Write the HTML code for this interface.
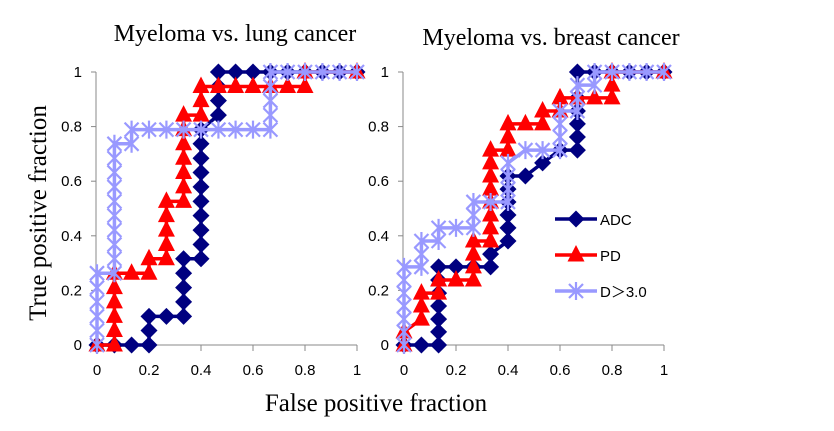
<!DOCTYPE html>
<html><head><meta charset="utf-8">
<style>
html,body{margin:0;padding:0;background:#fff;}
svg{display:block;}
.serif{font-family:"Liberation Serif",serif;fill:#000;}
.tick{font-family:"Liberation Sans",sans-serif;font-size:15px;fill:#000;}
</style></head>
<body>
<svg id="chart" width="834" height="431" viewBox="0 0 834 431"></svg>
<script>
const xTicks=[0,0.2,0.4,0.6,0.8,1];
const yTicks=[0,0.2,0.4,0.6,0.8,1];
const xTickLabels=["0","0.2","0.4","0.6","0.8","1"];
const yTickLabels=["0","0.2","0.4","0.6","0.8","1"];
const seriesNames=["ADC","PD","D＞3.0"];
const lungADC=[[0,0],[0.067,0],[0.133,0],[0.2,0],[0.2,0.053],[0.2,0.105],[0.267,0.105],[0.333,0.105],[0.333,0.158],[0.333,0.21],[0.333,0.263],[0.333,0.316],[0.4,0.316],[0.4,0.368],[0.4,0.421],[0.4,0.474],[0.4,0.526],[0.4,0.579],[0.4,0.632],[0.4,0.684],[0.4,0.737],[0.4,0.789],[0.467,0.842],[0.467,0.895],[0.467,0.947],[0.467,1],[0.533,1],[0.6,1],[0.667,1],[0.733,1],[0.8,1],[0.867,1],[0.933,1],[1,1]];
const lungPD=[[0,0],[0.067,0],[0.067,0.053],[0.067,0.105],[0.067,0.158],[0.067,0.21],[0.067,0.263],[0.133,0.263],[0.2,0.263],[0.2,0.316],[0.267,0.316],[0.267,0.368],[0.267,0.421],[0.267,0.474],[0.267,0.526],[0.333,0.526],[0.333,0.579],[0.333,0.632],[0.333,0.684],[0.333,0.737],[0.333,0.789],[0.333,0.842],[0.4,0.842],[0.4,0.895],[0.4,0.947],[0.467,0.947],[0.533,0.947],[0.6,0.947],[0.667,0.947],[0.733,0.947],[0.8,0.947],[0.8,1],[1,1]];
const lungD=[[0,0],[0,0.053],[0,0.105],[0,0.158],[0,0.21],[0,0.263],[0.067,0.263],[0.067,0.316],[0.067,0.368],[0.067,0.421],[0.067,0.474],[0.067,0.526],[0.067,0.579],[0.067,0.632],[0.067,0.684],[0.067,0.737],[0.133,0.737],[0.133,0.789],[0.2,0.789],[0.267,0.789],[0.333,0.789],[0.4,0.789],[0.467,0.789],[0.533,0.789],[0.6,0.789],[0.667,0.789],[0.667,0.842],[0.667,0.895],[0.667,0.947],[0.667,1],[0.733,1],[0.8,1],[0.867,1],[0.933,1],[1,1]];
const breastADC=[[0,0],[0.067,0],[0.133,0],[0.133,0.048],[0.133,0.095],[0.133,0.143],[0.133,0.19],[0.133,0.238],[0.133,0.286],[0.2,0.286],[0.267,0.286],[0.333,0.286],[0.333,0.333],[0.4,0.381],[0.4,0.429],[0.4,0.476],[0.4,0.524],[0.4,0.571],[0.4,0.619],[0.467,0.619],[0.533,0.667],[0.6,0.714],[0.667,0.714],[0.667,0.762],[0.667,0.81],[0.667,0.857],[0.667,0.905],[0.667,1],[0.733,1],[0.8,1],[0.867,1],[0.933,1],[1,1]];
const breastPD=[[0,0],[0,0.048],[0.067,0.095],[0.067,0.143],[0.067,0.19],[0.133,0.19],[0.133,0.238],[0.2,0.238],[0.267,0.238],[0.267,0.286],[0.267,0.333],[0.267,0.381],[0.333,0.381],[0.333,0.429],[0.333,0.476],[0.333,0.524],[0.333,0.571],[0.333,0.619],[0.333,0.667],[0.333,0.714],[0.4,0.714],[0.4,0.762],[0.4,0.81],[0.467,0.81],[0.533,0.81],[0.533,0.857],[0.6,0.857],[0.6,0.905],[0.667,0.905],[0.733,0.905],[0.8,0.905],[0.8,0.952],[0.8,1],[1,1]];
const breastD=[[0,0],[0,0.048],[0,0.095],[0,0.143],[0,0.19],[0,0.238],[0,0.286],[0.067,0.286],[0.067,0.333],[0.067,0.381],[0.133,0.381],[0.133,0.429],[0.2,0.429],[0.267,0.429],[0.267,0.476],[0.267,0.524],[0.333,0.524],[0.4,0.524],[0.4,0.571],[0.4,0.619],[0.4,0.667],[0.467,0.714],[0.533,0.714],[0.6,0.714],[0.6,0.762],[0.6,0.81],[0.6,0.857],[0.667,0.857],[0.667,0.905],[0.667,0.952],[0.733,0.952],[0.733,1],[0.8,1],[0.867,1],[0.933,1],[1,1]];

const NS="http://www.w3.org/2000/svg";
const svg=document.getElementById('chart');
const colors=["#000080","#FF0000","#9999FF"];
function mk(tag,attrs,parent){const e=document.createElementNS(NS,tag);for(const k in attrs)e.setAttribute(k,attrs[k]);(parent||svg).appendChild(e);return e;}
function marker(g,kind,cx,cy){
  let m;
  if(kind===0){m=mk('polygon',{points:`${cx},${cy-8.5} ${cx+8.5},${cy} ${cx},${cy+8.5} ${cx-8.5},${cy}`,fill:colors[0]},g);}
  else if(kind===1){m=mk('polygon',{points:`${cx},${cy-10} ${cx+8.5},${cy+6.5} ${cx-8.5},${cy+6.5}`,fill:colors[1]},g);}
  else{m=mk('path',{d:`M${cx-7},${cy-7}L${cx+7},${cy+7}M${cx-7},${cy+7}L${cx+7},${cy-7}M${cx},${cy-9}L${cx},${cy+9}`,stroke:colors[2],'stroke-width':2.2,fill:'none'},g);}
  
  
}
function panel(x0,name,title,titleX,titleY,data){
  const W=260,y0=345,H=273;
  const sx=v=>x0+v*W, sy=v=>y0-v*H;
  const g=mk('g',{});
  
  
  const t=mk('text',{x:titleX,y:titleY,'text-anchor':'middle','font-size':24,class:'serif'},g);
  t.textContent=title;
  
  
  const ax=mk('path',{d:`M${x0-1},${sy(1)}L${x0-1},${y0}L${sx(1)},${y0}`,stroke:'#888',fill:'none','stroke-width':1},g);
  
  
  yTicks.forEach((v,i)=>{
    mk('line',{x1:x0-6,x2:x0-1,y1:sy(v),y2:sy(v),stroke:'#888'},g);
    const l=mk('text',{x:x0-15,y:sy(v)+5,'text-anchor':'end',class:'tick'},g);
    l.textContent=yTickLabels[i];
    
    
  });
  xTicks.forEach((v,i)=>{
    mk('line',{x1:sx(v),x2:sx(v),y1:y0,y2:y0+6,stroke:'#888'},g);
    const l=mk('text',{x:sx(v),y:375,'text-anchor':'middle',class:'tick'},g);
    l.textContent=xTickLabels[i];
    
    
  });
  data.forEach((pts,k)=>{
    const sg=mk('g',{},g);
    
    
    const ln=mk('polyline',{points:pts.map(p=>sx(p[0])+','+sy(p[1])).join(' '),fill:'none',stroke:colors[k],'stroke-width':3.5},sg);
    
    
    pts.forEach(p=>marker(sg,k,sx(p[0]),sy(p[1])));
  });
}
panel(97,'lung-panel','Myeloma vs. lung cancer',235,41,[lungADC,lungPD,lungD]);
panel(404,'breast-panel','Myeloma vs. breast cancer',551,45,[breastADC,breastPD,breastD]);

const yt=mk('text',{x:0,y:0,transform:'translate(46,213) rotate(-90)','text-anchor':'middle','font-size':25,class:'serif'});
yt.textContent='True positive fraction';


const xt=mk('text',{x:376,y:411,'text-anchor':'middle','font-size':25,class:'serif'});
xt.textContent='False positive fraction';



const lg=mk('g',{});


seriesNames.forEach((n,k)=>{
  const y=219+k*36;
  const eg=mk('g',{},lg);
  
  
  mk('line',{x1:555,x2:597,y1:y,y2:y,stroke:colors[k],'stroke-width':3.5},eg);
  marker(eg,k,576,y);
  const t=mk('text',{x:600,y:y+6,class:'tick','font-size':16},eg);
  t.textContent=n;
  
  
});
</script>
</body></html>
